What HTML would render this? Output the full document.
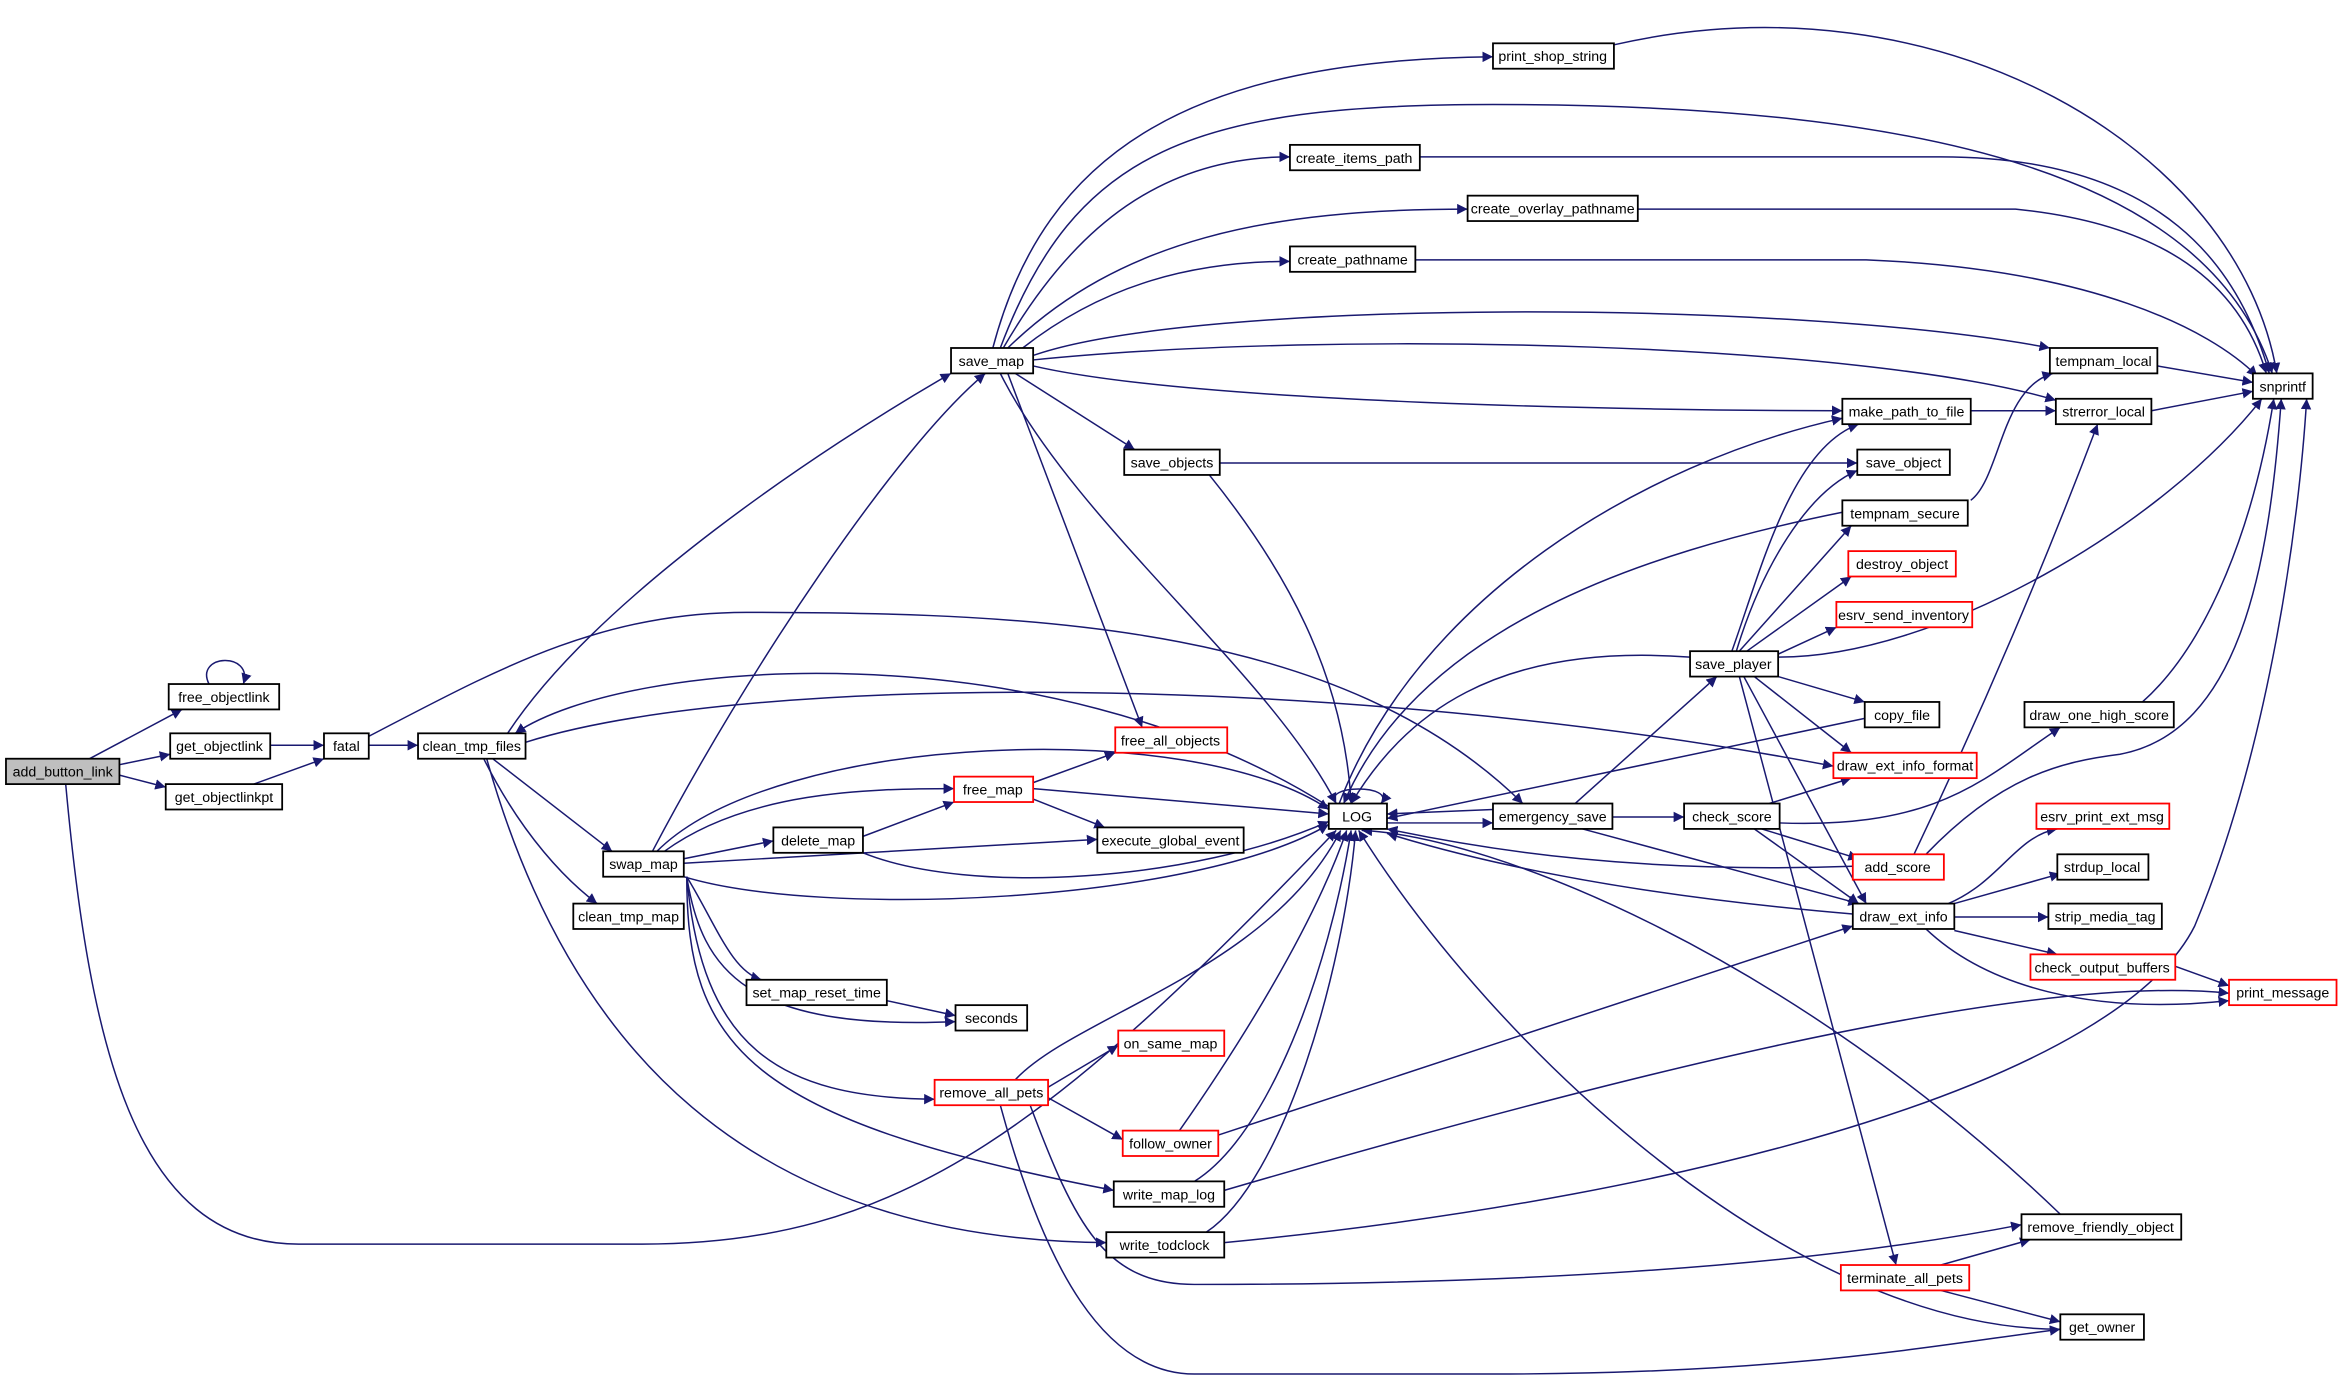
<!DOCTYPE html>
<html><head><meta charset="utf-8"><style>
html,body{margin:0;padding:0;background:#fff;}
svg{display:block;}
text{font-family:"Liberation Sans",sans-serif;font-size:9.5px;text-anchor:middle;}
</style></head><body>
<svg width="2341" height="1386" viewBox="0 0 1568 928" preserveAspectRatio="none" xmlns="http://www.w3.org/2000/svg">
<defs><marker id="a" viewBox="0 0 10 10" refX="10" refY="5" markerWidth="7" markerHeight="7" markerUnits="userSpaceOnUse" orient="auto"><path d="M0,0L10,5L0,10z" fill="#191970"/></marker></defs>
<g fill="none" stroke="#191970" stroke-width="1" marker-end="url(#a)">
<path d="M60,508L122,475"/>
<path d="M80,512L114,505"/>
<path d="M80,519L111,527"/>
<path d="M44,525C60,700 90,833 200,833L430,833C600,833 700,760 895,556"/>
<path d="M140,458C130,438 170,436 163,458"/>
<path d="M181,499L217,499"/>
<path d="M170,525L217,508"/>
<path d="M247,499L280,499"/>
<path d="M247,493C330,450 400,410 500,410C700,410 900,420 1020,538"/>
<path d="M340,491C400,400 550,300 637,250"/>
<path d="M330,508L410,570"/>
<path d="M324,508C350,560 380,590 400,605"/>
<path d="M326,508C380,700 500,830 741,832"/>
<path d="M890,540C700,420 420,440 345,491"/>
<path d="M352,497C500,450 900,450 1228,513"/>
<path d="M437,570C500,450 600,300 660,250"/>
<path d="M440,570C520,490 800,480 890,542"/>
<path d="M445,570C500,530 580,528 639,528"/>
<path d="M458,575L518,563"/>
<path d="M458,578L735,562"/>
<path d="M458,587C550,615 800,605 890,552"/>
<path d="M578,560L639,537"/>
<path d="M578,571C650,600 800,590 890,550"/>
<path d="M460,587C480,620 490,650 510,656"/>
<path d="M460,587C470,650 500,690 640,684"/>
<path d="M460,587C470,700 520,735 626,736"/>
<path d="M460,587C460,700 500,750 746,797"/>
<path d="M594,670L640,680"/>
<path d="M692,524L747,504"/>
<path d="M692,528L890,545"/>
<path d="M692,535L740,554"/>
<path d="M665,233C700,100 800,40 1000,38"/>
<path d="M1081,30C1300,-20 1500,100 1525,250"/>
<path d="M670,233C720,100 800,70 1000,70C1300,70 1480,120 1522,250"/>
<path d="M672,233C720,150 780,105 864,105"/>
<path d="M675,233C750,160 850,140 983,140"/>
<path d="M685,233C740,190 800,175 864,175"/>
<path d="M951,105L1300,105C1450,105 1500,180 1520,250"/>
<path d="M1097,140L1350,140C1450,150 1500,190 1518,250"/>
<path d="M948,174L1250,174C1400,180 1480,220 1512,252"/>
<path d="M692,238C800,200 1200,200 1373,233"/>
<path d="M692,241C900,220 1250,230 1377,268"/>
<path d="M692,245C800,270 1100,275 1234,275"/>
<path d="M680,250L760,301"/>
<path d="M675,250L765,487"/>
<path d="M670,250C720,350 850,450 895,538"/>
<path d="M1445,245L1509,256"/>
<path d="M1441,275L1509,262"/>
<path d="M1320,275L1377,275"/>
<path d="M817,310L1244,310"/>
<path d="M810,318C860,380 900,450 905,538"/>
<path d="M1320,335C1340,320 1340,260 1375,250"/>
<path d="M1234,343C1100,370 950,420 900,538"/>
<path d="M897,538C950,400 1100,310 1234,280"/>
<path d="M1160,436C1180,380 1200,300 1245,284"/>
<path d="M1163,436C1180,380 1210,330 1244,315"/>
<path d="M1165,436L1240,352"/>
<path d="M1170,436L1240,386"/>
<path d="M1191,438L1230,420"/>
<path d="M1191,440C1300,440 1450,350 1515,267"/>
<path d="M1191,453L1249,470"/>
<path d="M1175,453L1240,504"/>
<path d="M1168,453L1250,605"/>
<path d="M1165,453L1270,847"/>
<path d="M1132,440C1000,430 940,480 905,538"/>
<path d="M1249,481L929,548"/>
<path d="M1055,538L1150,453"/>
<path d="M1000,542L929,545"/>
<path d="M929,551L1000,551"/>
<path d="M1080,547L1128,547"/>
<path d="M1060,555L1245,605"/>
<path d="M1185,538L1240,521"/>
<path d="M1192,551C1300,555 1330,520 1380,487"/>
<path d="M1180,555L1245,575"/>
<path d="M1175,555L1245,605"/>
<path d="M1435,470C1480,430 1510,350 1523,267"/>
<path d="M1290,572C1340,520 1380,510 1420,505C1500,490 1520,380 1528,267"/>
<path d="M1282,572C1340,450 1380,350 1405,284"/>
<path d="M1241,580C1100,585 1000,570 929,555"/>
<path d="M1241,612C1100,600 1000,580 929,558"/>
<path d="M1305,605C1340,590 1350,560 1378,555"/>
<path d="M1309,605L1380,585"/>
<path d="M1309,614L1372,614"/>
<path d="M1309,623L1378,639"/>
<path d="M1290,622C1330,660 1400,680 1493,670"/>
<path d="M1457,647L1493,660"/>
<path d="M702,728L749,700"/>
<path d="M702,735L752,763"/>
<path d="M680,723C720,680 850,650 898,556"/>
<path d="M690,740C720,820 740,860 800,860C1000,860 1200,850 1354,820"/>
<path d="M670,740C700,850 740,920 800,920L1000,920C1200,920 1300,900 1380,890"/>
<path d="M790,757C830,700 880,620 902,556"/>
<path d="M816,760L1241,620"/>
<path d="M800,791C850,760 890,650 905,556"/>
<path d="M820,797C1050,730 1350,650 1493,665"/>
<path d="M808,825C860,790 900,650 908,556"/>
<path d="M820,832C1150,800 1420,720 1470,620C1520,500 1540,350 1545,267"/>
<path d="M1380,813C1200,640 1000,560 912,556"/>
<path d="M1380,890C1200,890 1000,700 910,556"/>
<path d="M1300,847L1360,830"/>
<path d="M1300,864L1380,885"/>
<path d="M895,538C885,525 935,525 925,538"/>
</g>
<g stroke-width="1.2">
<rect x="4" y="508" width="76" height="17" fill="#bfbfbf" stroke="#000"/>
<rect x="113" y="458" width="74" height="17" fill="#fff" stroke="#000"/>
<rect x="114" y="491" width="67" height="17" fill="#fff" stroke="#000"/>
<rect x="111" y="525" width="78" height="17" fill="#fff" stroke="#000"/>
<rect x="217" y="491" width="30" height="17" fill="#fff" stroke="#000"/>
<rect x="280" y="491" width="72" height="17" fill="#fff" stroke="#000"/>
<rect x="404" y="570" width="54" height="17" fill="#fff" stroke="#000"/>
<rect x="384" y="605" width="74" height="17" fill="#fff" stroke="#000"/>
<rect x="637" y="233" width="55" height="17" fill="#fff" stroke="#000"/>
<rect x="1000" y="29" width="81" height="17" fill="#fff" stroke="#000"/>
<rect x="864" y="97" width="87" height="17" fill="#fff" stroke="#000"/>
<rect x="983" y="131" width="114" height="17" fill="#fff" stroke="#000"/>
<rect x="864" y="165" width="84" height="17" fill="#fff" stroke="#000"/>
<rect x="1509" y="250" width="40" height="17" fill="#fff" stroke="#000"/>
<rect x="1373" y="233" width="72" height="17" fill="#fff" stroke="#000"/>
<rect x="1377" y="267" width="64" height="17" fill="#fff" stroke="#000"/>
<rect x="1234" y="267" width="86" height="17" fill="#fff" stroke="#000"/>
<rect x="753" y="301" width="64" height="17" fill="#fff" stroke="#000"/>
<rect x="1244" y="301" width="62" height="17" fill="#fff" stroke="#000"/>
<rect x="1234" y="335" width="84" height="17" fill="#fff" stroke="#000"/>
<rect x="1238" y="369" width="72" height="17" fill="#fff" stroke="#f00"/>
<rect x="1230" y="403" width="91" height="17" fill="#fff" stroke="#f00"/>
<rect x="1132" y="436" width="59" height="17" fill="#fff" stroke="#000"/>
<rect x="1249" y="470" width="50" height="17" fill="#fff" stroke="#000"/>
<rect x="1228" y="504" width="96" height="17" fill="#fff" stroke="#f00"/>
<rect x="1356" y="470" width="100" height="17" fill="#fff" stroke="#000"/>
<rect x="747" y="487" width="75" height="17" fill="#fff" stroke="#f00"/>
<rect x="639" y="520" width="53" height="17" fill="#fff" stroke="#f00"/>
<rect x="890" y="538" width="39" height="17" fill="#fff" stroke="#000"/>
<rect x="518" y="554" width="60" height="17" fill="#fff" stroke="#000"/>
<rect x="735" y="554" width="98" height="17" fill="#fff" stroke="#000"/>
<rect x="1000" y="538" width="80" height="17" fill="#fff" stroke="#000"/>
<rect x="1128" y="538" width="64" height="17" fill="#fff" stroke="#000"/>
<rect x="1241" y="572" width="61" height="17" fill="#fff" stroke="#f00"/>
<rect x="1364" y="538" width="89" height="17" fill="#fff" stroke="#f00"/>
<rect x="1378" y="572" width="61" height="17" fill="#fff" stroke="#000"/>
<rect x="1241" y="605" width="68" height="17" fill="#fff" stroke="#000"/>
<rect x="1372" y="605" width="76" height="17" fill="#fff" stroke="#000"/>
<rect x="1360" y="639" width="97" height="17" fill="#fff" stroke="#f00"/>
<rect x="1493" y="656" width="72" height="17" fill="#fff" stroke="#f00"/>
<rect x="500" y="656" width="94" height="17" fill="#fff" stroke="#000"/>
<rect x="640" y="673" width="48" height="17" fill="#fff" stroke="#000"/>
<rect x="749" y="690" width="71" height="17" fill="#fff" stroke="#f00"/>
<rect x="626" y="723" width="76" height="17" fill="#fff" stroke="#f00"/>
<rect x="752" y="757" width="64" height="17" fill="#fff" stroke="#f00"/>
<rect x="746" y="791" width="74" height="17" fill="#fff" stroke="#000"/>
<rect x="741" y="825" width="79" height="17" fill="#fff" stroke="#000"/>
<rect x="1354" y="813" width="107" height="17" fill="#fff" stroke="#000"/>
<rect x="1233" y="847" width="86" height="17" fill="#fff" stroke="#f00"/>
<rect x="1380" y="880" width="56" height="17" fill="#fff" stroke="#000"/>
</g>
<g>
<text x="42" y="520">add_button_link</text>
<text x="150" y="470">free_objectlink</text>
<text x="147" y="503">get_objectlink</text>
<text x="150" y="537">get_objectlinkpt</text>
<text x="232" y="503">fatal</text>
<text x="316" y="503">clean_tmp_files</text>
<text x="431" y="582">swap_map</text>
<text x="421" y="617">clean_tmp_map</text>
<text x="664" y="245">save_map</text>
<text x="1040" y="41">print_shop_string</text>
<text x="907" y="109">create_items_path</text>
<text x="1040" y="143">create_overlay_pathname</text>
<text x="906" y="177">create_pathname</text>
<text x="1529" y="262">snprintf</text>
<text x="1409" y="245">tempnam_local</text>
<text x="1409" y="279">strerror_local</text>
<text x="1277" y="279">make_path_to_file</text>
<text x="785" y="313">save_objects</text>
<text x="1275" y="313">save_object</text>
<text x="1276" y="347">tempnam_secure</text>
<text x="1274" y="381">destroy_object</text>
<text x="1275" y="415">esrv_send_inventory</text>
<text x="1161" y="448">save_player</text>
<text x="1274" y="482">copy_file</text>
<text x="1276" y="516">draw_ext_info_format</text>
<text x="1406" y="482">draw_one_high_score</text>
<text x="784" y="499">free_all_objects</text>
<text x="665" y="532">free_map</text>
<text x="909" y="550">LOG</text>
<text x="548" y="566">delete_map</text>
<text x="784" y="566">execute_global_event</text>
<text x="1040" y="550">emergency_save</text>
<text x="1160" y="550">check_score</text>
<text x="1271" y="584">add_score</text>
<text x="1408" y="550">esrv_print_ext_msg</text>
<text x="1408" y="584">strdup_local</text>
<text x="1275" y="617">draw_ext_info</text>
<text x="1410" y="617">strip_media_tag</text>
<text x="1408" y="651">check_output_buffers</text>
<text x="1529" y="668">print_message</text>
<text x="547" y="668">set_map_reset_time</text>
<text x="664" y="685">seconds</text>
<text x="784" y="702">on_same_map</text>
<text x="664" y="735">remove_all_pets</text>
<text x="784" y="769">follow_owner</text>
<text x="783" y="803">write_map_log</text>
<text x="780" y="837">write_todclock</text>
<text x="1407" y="825">remove_friendly_object</text>
<text x="1276" y="859">terminate_all_pets</text>
<text x="1408" y="892">get_owner</text>
</g>
</svg>
</body></html>
